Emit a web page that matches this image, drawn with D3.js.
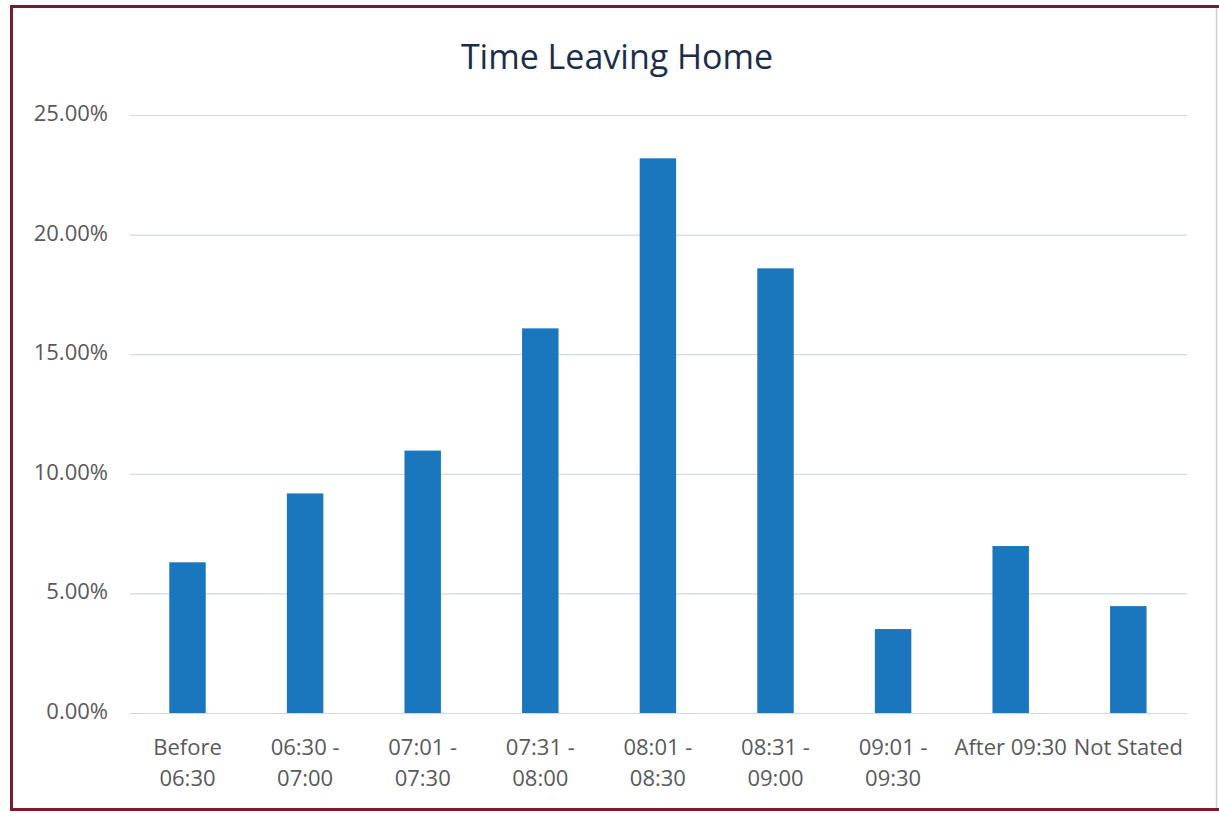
<!DOCTYPE html>
<html>
<head>
<meta charset="utf-8">
<title>Time Leaving Home</title>
<script src="https://cdn.jsdelivr.net/npm/d3@7"></script>
<style>
  html, body { margin: 0; padding: 0; background: #ffffff; }
  svg { display: block; }
</style>
</head>
<body>
<div id="chart"></div>
<script>
// Departure time bands (line breaks mark where each label wraps)
const categories = [
  "Before\n06:30",
  "06:30 -\n07:00",
  "07:01 -\n07:30",
  "07:31 -\n08:00",
  "08:01 -\n08:30",
  "08:31 -\n09:00",
  "09:01 -\n09:30",
  "After 09:30",
  "Not Stated"
];

// Share of respondents leaving home in each band (%)
const shares = [6.30, 9.18, 10.97, 16.08, 23.19, 18.59, 3.51, 6.98, 4.47];

// Value axis ticks (%)
const yTicks = [0, 5, 10, 15, 20, 25];

const chartTitle = "Time Leaving Home";

const W = 1219, H = 813;
const margin = { left: 128.7, right: 1219 - 1187.1, top: 115, bottom: 813 - 713 };

const data = categories.map((c, i) => ({ category: c, value: shares[i] }));

const svg = d3.select("#chart").append("svg")
  .attr("width", W)
  .attr("height", H);

// Chart frame
svg.append("rect")
  .attr("x", 0).attr("y", 0).attr("width", W).attr("height", H)
  .attr("fill", "#ffffff");
svg.append("path")
  .attr("d", `M1219,6.5 L11.5,6.5 L11.5,809.5 L1219,809.5`)
  .attr("fill", "none")
  .attr("stroke", "#7d1a2a")
  .attr("stroke-width", 3);
svg.append("line")
  .attr("x1", 1216.5).attr("x2", 1216.5)
  .attr("y1", 8).attr("y2", 808)
  .attr("stroke", "#cfcfcf")
  .attr("stroke-width", 1.5);

const x = d3.scaleBand()
  .domain(categories)
  .range([margin.left, W - margin.right])
  .paddingInner(0.69)
  .paddingOuter(0.345);

const y = d3.scaleLinear()
  .domain([0, 25])
  .range([H - margin.bottom, margin.top]);

const font = "'Open Sans', 'Noto Sans', sans-serif";

// Gridlines and value labels
const yAxis = d3.axisLeft(y)
  .tickValues(yTicks)
  .tickSize(-(W - margin.right - margin.left - 1.3))
  .tickPadding(22)
  .tickFormat(d => d3.format(".2f")(d) + "%");

const gY = svg.append("g")
  .attr("transform", `translate(${margin.left + 1.3},0)`)
  .call(yAxis);
gY.select(".domain").remove();
gY.selectAll(".tick line")
  .attr("stroke", "#d3d9df")
  .attr("stroke-width", 1.2);
gY.selectAll(".tick text")
  .attr("fill", "#595959")
  .attr("font-family", font)
  .attr("font-size", 22)
  .attr("dy", "0.25em");

// Bars
svg.append("g")
  .selectAll("rect")
  .data(data)
  .join("rect")
  .attr("x", d => x(d.category))
  .attr("width", x.bandwidth())
  .attr("y", d => y(d.value))
  .attr("height", d => y(0) - y(d.value))
  .attr("fill", "#1a77bd");

// Category axis
const xAxis = d3.axisBottom(x).tickSize(0).tickPadding(0).tickFormat("");
const gX = svg.append("g")
  .attr("transform", `translate(0,${y(0)})`)
  .call(xAxis);
gX.select(".domain").remove();

gX.selectAll(".tick")
  .append("text")
  .attr("fill", "#595959")
  .attr("font-family", font)
  .attr("font-size", 22)
  .attr("text-anchor", "middle")
  .each(function(d) {
    const lines = d.split("\n");
    d3.select(this).selectAll("tspan")
      .data(lines)
      .join("tspan")
      .attr("x", 0)
      .attr("y", (l, i) => 42 + i * 31)
      .text(l => l);
  });

// Title
svg.append("text")
  .attr("x", 617)
  .attr("y", 69)
  .attr("text-anchor", "middle")
  .attr("fill", "#1c2d4c")
  .attr("font-family", font)
  .attr("font-size", 34)
  .text(chartTitle);
</script>
</body>
</html>
